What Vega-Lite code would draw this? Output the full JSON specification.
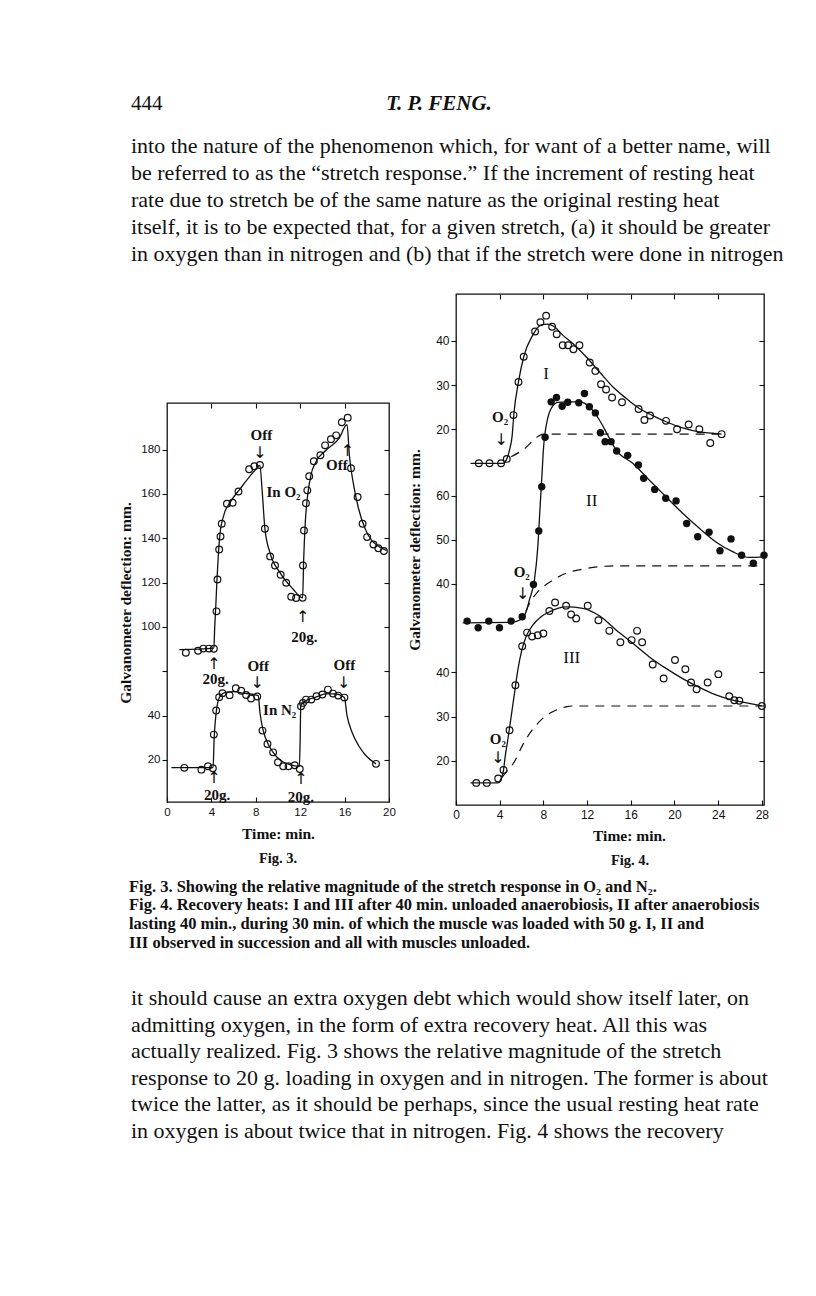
{
  "$schema": "https://vega.github.io/schema/vega-lite/v6.json",
  "background": "white",
  "padding": {"left": 118, "top": 89, "right": 0, "bottom": 0},
  "spacing": 0,
  "config": {
    "view": {"stroke": null},
    "font": "Liberation Serif",
    "axis": {"domain": false, "grid": false, "labelFlush": false, "tickColor": "#111", "tickWidth": 1.1, "labelColor": "#111", "labelFont": "Liberation Sans", "labelFontSize": 12, "titleFont": "Liberation Serif", "titleFontSize": 15.5, "titleFontWeight": "bold", "titleColor": "#111"},
    "title": {"font": "Liberation Serif", "fontSize": 14.5, "fontWeight": "bold", "color": "#111"},
    "text": {"color": "#111", "font": "Liberation Serif"}
  },
  "datasets": {
    "para1": [
      {"line": 1, "text": "into the nature of the phenomenon which, for want of a better name, will"},
      {"line": 2, "text": "be referred to as the “stretch response.”  If the increment of resting heat"},
      {"line": 3, "text": "rate due to stretch be of the same nature as the original resting heat"},
      {"line": 4, "text": "itself, it is to be expected that, for a given stretch, (a) it should be greater"},
      {"line": 5, "text": "in oxygen than in nitrogen and (b) that if the stretch were done in nitrogen"}
    ],
    "captions": [
      {"line": 1, "text": "Fig. 3.  Showing the relative magnitude of the stretch response in O₂ and N₂."},
      {"line": 2, "text": "Fig. 4.  Recovery heats: I and III after 40 min. unloaded anaerobiosis, II after anaerobiosis"},
      {"line": 3, "text": "\u2003\u2005lasting 40 min., during 30 min. of which the muscle was loaded with 50 g.  I, II and"},
      {"line": 4, "text": "\u2003\u2005III observed in succession and all with muscles unloaded."}
    ],
    "para2": [
      {"line": 1, "text": "it should cause an extra oxygen debt which would show itself later, on"},
      {"line": 2, "text": "admitting oxygen, in the form of extra recovery heat.  All this was"},
      {"line": 3, "text": "actually realized.  Fig. 3 shows the relative magnitude of the stretch"},
      {"line": 4, "text": "response to 20 g. loading in oxygen and in nitrogen. The former is about"},
      {"line": 5, "text": "twice the latter, as it should be perhaps, since the usual resting heat rate"},
      {"line": 6, "text": "in oxygen is about twice that in nitrogen.  Fig. 4 shows the recovery"}
    ],
    "f3_o2_obs": [
      {"t":1.7,"v":88.3},{"t":2.8,"v":89.2},{"t":3.27,"v":90.2},{"t":3.78,"v":90.2},{"t":4.22,"v":90.1},
      {"t":4.46,"v":107},{"t":4.55,"v":121.4},{"t":4.7,"v":134.9},{"t":4.82,"v":140.8},{"t":4.93,"v":146.5},{"t":5.4,"v":155.6},{"t":5.91,"v":156},{"t":6.44,"v":161.1},{"t":7.4,"v":171.1},{"t":7.87,"v":172.5},{"t":8.37,"v":173},
      {"t":8.82,"v":144.3},{"t":9.29,"v":131.8},{"t":9.73,"v":127.7},{"t":10.24,"v":123.5},{"t":10.74,"v":119.9},{"t":11.19,"v":113.6},{"t":11.63,"v":113},{"t":12.22,"v":113.1},
      {"t":12.25,"v":127.7},{"t":12.34,"v":143.5},{"t":12.52,"v":155.8},{"t":12.64,"v":161.6},{"t":12.81,"v":168},{"t":13.23,"v":174.7},{"t":13.82,"v":177.4},{"t":14.24,"v":181.9},{"t":14.77,"v":184.7},{"t":15.24,"v":186.4},{"t":15.75,"v":192.3},{"t":16.28,"v":194.4},
      {"t":16.58,"v":171.6},{"t":17.17,"v":158.6},{"t":17.62,"v":146.5},{"t":18.03,"v":140.5},{"t":18.6,"v":137.2},{"t":19.04,"v":135.5},{"t":19.54,"v":134.2}
    ],
    "f3_o2_fit": [
      {"t":1.11,"v":89.7},{"t":4.22,"v":90.4},{"t":4.3,"v":100},{"t":4.4,"v":110},{"t":4.5,"v":121},{"t":4.62,"v":132},{"t":4.76,"v":141.3},{"t":5.11,"v":150.3},{"t":5.7,"v":156.3},{"t":6.59,"v":162.3},{"t":7.78,"v":169.8},{"t":8.37,"v":172.9},{"t":8.58,"v":160.8},{"t":8.82,"v":144.3},{"t":9.26,"v":133.7},{"t":10.15,"v":124.7},{"t":11.33,"v":117.2},{"t":12.22,"v":113.1},{"t":12.31,"v":129.8},{"t":12.46,"v":147.3},{"t":12.67,"v":159.3},{"t":12.96,"v":168.4},{"t":13.41,"v":174.4},{"t":14.3,"v":179.6},{"t":15.48,"v":184.9},{"t":16.22,"v":191.2},{"t":16.43,"v":177.4},{"t":16.82,"v":163.8},{"t":17.26,"v":153.3},{"t":17.85,"v":144.3},{"t":18.44,"v":139},{"t":19.04,"v":136.4},{"t":19.78,"v":134.5}
    ],
    "f3_o2_notes": [
      {"t":8.5,"v":186.5,"label":"Off","kind":"label"},{"t":8.37,"v":178.3,"label":"↓","kind":"arrow"},
      {"t":15.3,"v":172.9,"label":"Off","kind":"label"},{"t":16.25,"v":179.5,"label":"↑","kind":"arrow"},
      {"t":10.5,"v":160.8,"label":"In O₂","kind":"label"},
      {"t":12.22,"v":104.5,"label":"↑","kind":"arrow"},{"t":12.37,"v":95.6,"label":"20g.","kind":"label"},
      {"t":4.22,"v":83.4,"label":"↑","kind":"arrow"},{"t":4.37,"v":76.6,"label":"20g.","kind":"label"}
    ],
    "f3_n2_obs": [
      {"t":1.56,"v":16.4},{"t":3.1,"v":15.6},{"t":3.69,"v":17.1},{"t":4.13,"v":16.2},
      {"t":4.22,"v":31.4},{"t":4.43,"v":42.3},{"t":4.7,"v":48.3},{"t":5.0,"v":50.1},{"t":5.64,"v":49.2},{"t":6.2,"v":52.3},{"t":6.68,"v":51.2},{"t":7.13,"v":49.3},{"t":7.57,"v":47.7},{"t":8.13,"v":48.6},
      {"t":8.6,"v":33.2},{"t":9.05,"v":27.2},{"t":9.56,"v":23.4},{"t":10.0,"v":18.9},{"t":10.47,"v":17.1},{"t":10.95,"v":17.1},{"t":11.51,"v":17.6},{"t":11.96,"v":15.9},
      {"t":12.07,"v":44.2},{"t":12.25,"v":45.7},{"t":12.52,"v":47.2},{"t":13.0,"v":47.2},{"t":13.47,"v":48.7},{"t":14.0,"v":49.5},{"t":14.5,"v":51.7},{"t":14.95,"v":49.9},{"t":15.42,"v":49},{"t":15.98,"v":48.1},
      {"t":18.83,"v":18.2}
    ],
    "f3_n2_fit": [
      {"t":0.4,"v":16.5},{"t":4.15,"v":16.5},{"t":4.25,"v":30},{"t":4.4,"v":40},{"t":4.52,"v":44.5},{"t":4.82,"v":49},{"t":5.26,"v":50.5},{"t":6,"v":50.8},{"t":6.89,"v":50.1},{"t":8.22,"v":49},{"t":8.37,"v":41.5},{"t":8.67,"v":33.2},{"t":9.11,"v":27.2},{"t":9.56,"v":23.4},{"t":10.15,"v":20.1},{"t":11.04,"v":17.9},{"t":11.93,"v":17.1},{"t":12.0,"v":30},{"t":12.05,"v":44.5},{"t":12.52,"v":46.8},{"t":13.41,"v":48.3},{"t":14.3,"v":49.8},{"t":15.19,"v":49.8},{"t":15.98,"v":48.1},{"t":16.22,"v":40},{"t":16.67,"v":32.5},{"t":17.26,"v":26.5},{"t":17.85,"v":22.3},{"t":18.83,"v":18.2}
    ],
    "f3_n2_notes": [
      {"t":8.22,"v":62.5,"label":"Off","kind":"label"},{"t":8.13,"v":54.5,"label":"↓","kind":"arrow"},
      {"t":15.98,"v":62.8,"label":"Off","kind":"label"},{"t":15.92,"v":54.5,"label":"↓","kind":"arrow"},
      {"t":10.15,"v":42.3,"label":"In N₂","kind":"label"},
      {"t":4.22,"v":11.8,"label":"↑","kind":"arrow"},{"t":4.52,"v":4.0,"label":"20g.","kind":"label"},
      {"t":12.07,"v":11.3,"label":"↑","kind":"arrow"},{"t":12.07,"v":3.4,"label":"20g.","kind":"label"}
    ],
    "f4_1_obs": [
      {"t":2.09,"v":12.3},{"t":3.07,"v":12.3},{"t":4.13,"v":12.3},{"t":4.65,"v":13.3},{"t":5.26,"v":23.2},{"t":5.72,"v":30.7},{"t":6.2,"v":36.4},{"t":7.24,"v":42.1},{"t":7.73,"v":44.2},{"t":8.25,"v":45.7},{"t":8.8,"v":43.2},{"t":9.22,"v":41.5},{"t":9.77,"v":39},{"t":10.27,"v":39},{"t":10.75,"v":38.1},{"t":11.3,"v":39},{"t":12.24,"v":35.1},{"t":12.76,"v":33.2},{"t":13.28,"v":30.2},{"t":13.74,"v":29},{"t":14.29,"v":27.2},{"t":15.2,"v":26.1},{"t":16.72,"v":24.6},{"t":17.25,"v":22.1},{"t":17.77,"v":23.1},{"t":19.23,"v":21.9},{"t":20.24,"v":20},{"t":21.3,"v":21.1},{"t":22.28,"v":20},{"t":23.28,"v":16.9},{"t":24.32,"v":18.9}
    ],
    "f4_1_fit": [
      {"t":1.33,"v":12.3},{"t":4.3,"v":12.3},{"t":4.65,"v":13.3},{"t":4.9,"v":15.3},{"t":5.14,"v":18.5},{"t":5.3,"v":23.5},{"t":5.72,"v":30.7},{"t":6.2,"v":36.4},{"t":7.03,"v":41.3},{"t":7.79,"v":43.6},{"t":8.4,"v":43.8},{"t":9.01,"v":43.2},{"t":9.77,"v":41.3},{"t":10.69,"v":39.4},{"t":11.91,"v":36.4},{"t":13.13,"v":33},{"t":14.35,"v":29.6},{"t":15.57,"v":27},{"t":16.79,"v":24.7},{"t":18.01,"v":23.1},{"t":19.23,"v":21.7},{"t":20.75,"v":20.3},{"t":22.28,"v":19.4},{"t":23.5,"v":19.1},{"t":24.32,"v":18.9}
    ],
    "f4_1_base": [
      {"t":5.05,"v":13.8},{"t":6.42,"v":15.9},{"t":7.34,"v":18.1},{"t":8.0,"v":18.9},{"t":24.1,"v":18.9}
    ],
    "f4_1_notes": [
      {"t":4.04,"v":22.8,"label":"O₂","kind":"label"},{"t":4.14,"v":17.6,"label":"↓","kind":"arrow"},{"t":8.25,"v":32.6,"label":"I","kind":"roman"}
    ],
    "f4_2_obs": [
      {"t":1.02,"v":31.6},{"t":2.03,"v":30.1},{"t":3.0,"v":31.6},{"t":3.98,"v":30.1},{"t":5.05,"v":31.6},{"t":6.06,"v":32.6},{"t":7.09,"v":39.9},{"t":7.58,"v":52},{"t":7.85,"v":62},{"t":8.16,"v":73.2},{"t":8.71,"v":81.2},{"t":9.2,"v":82.2},{"t":9.72,"v":80.2},{"t":10.23,"v":81.1},{"t":11.24,"v":81},{"t":11.76,"v":83.1},{"t":12.21,"v":80.1},{"t":12.76,"v":78.7},{"t":13.22,"v":74.2},{"t":13.65,"v":72.2},{"t":14.2,"v":72.2},{"t":14.71,"v":70.1},{"t":15.72,"v":69.1},{"t":16.7,"v":66.9},{"t":17.18,"v":63.9},{"t":18.19,"v":61.4},{"t":19.2,"v":59.4},{"t":20.15,"v":58.8},{"t":21.12,"v":53.7},{"t":22.13,"v":50.7},{"t":23.17,"v":51.7},{"t":24.17,"v":47.5},{"t":25.18,"v":50.2},{"t":26.15,"v":46.5},{"t":27.22,"v":44.7},{"t":28.2,"v":46.5}
    ],
    "f4_2_fit": [
      {"t":0.62,"v":31.2},{"t":5.0,"v":31.3},{"t":6.06,"v":32.2},{"t":6.42,"v":33.7},{"t":6.72,"v":36.4},{"t":7.18,"v":40.9},{"t":7.49,"v":48.4},{"t":7.7,"v":57.5},{"t":7.88,"v":65},{"t":8.0,"v":70.3},{"t":8.4,"v":77.5},{"t":8.71,"v":79.7},{"t":9.31,"v":81.1},{"t":10.08,"v":81.2},{"t":11.3,"v":81.2},{"t":12.21,"v":80.1},{"t":13.13,"v":77.1},{"t":13.89,"v":73.7},{"t":14.66,"v":70.3},{"t":16.18,"v":67.3},{"t":17.7,"v":63.5},{"t":19.23,"v":59.7},{"t":20.75,"v":56},{"t":22.28,"v":52.6},{"t":23.8,"v":49.5},{"t":25.33,"v":47.3},{"t":26.85,"v":46},{"t":28.2,"v":46.2}
    ],
    "f4_2_base": [
      {"t":6.4,"v":33.8},{"t":6.57,"v":34.8},{"t":9.17,"v":41.3},{"t":11.91,"v":43.5},{"t":14.66,"v":44.1},{"t":28.2,"v":44.1}
    ],
    "f4_2_notes": [
      {"t":6.02,"v":42.6,"label":"O₂","kind":"label"},{"t":6.11,"v":37.8,"label":"↓","kind":"arrow"},{"t":12.43,"v":58.8,"label":"II","kind":"roman"}
    ],
    "f4_3_obs": [
      {"t":1.85,"v":15.0},{"t":2.82,"v":15.0},{"t":3.86,"v":16.0},{"t":4.35,"v":17.9},{"t":4.9,"v":26.9},{"t":5.44,"v":37.1},{"t":6.06,"v":45.9},{"t":6.51,"v":49},{"t":6.97,"v":48.1},{"t":7.49,"v":48.4},{"t":8.0,"v":48.8},{"t":8.55,"v":53.9},{"t":9.07,"v":55.8},{"t":10.08,"v":55.1},{"t":10.54,"v":53.1},{"t":11.0,"v":52.2},{"t":12.06,"v":55.1},{"t":13.04,"v":51.8},{"t":14.04,"v":49.4},{"t":15.05,"v":46.8},{"t":16.08,"v":47.3},{"t":16.58,"v":49.4},{"t":17.04,"v":46.8},{"t":18.01,"v":41.8},{"t":19.01,"v":38.6},{"t":20.05,"v":42.8},{"t":21.0,"v":40.7},{"t":21.52,"v":37.7},{"t":22.03,"v":36.2},{"t":23.04,"v":37.7},{"t":24.02,"v":39.6},{"t":25.02,"v":34.6},{"t":25.48,"v":33.7},{"t":25.94,"v":33.6},{"t":28.01,"v":32.4}
    ],
    "f4_3_fit": [
      {"t":1.33,"v":15},{"t":3.83,"v":15},{"t":4.13,"v":16},{"t":4.35,"v":17.9},{"t":4.5,"v":20.9},{"t":4.74,"v":24.7},{"t":5.05,"v":30},{"t":5.35,"v":35.2},{"t":5.66,"v":40.5},{"t":6.02,"v":45},{"t":6.42,"v":48.1},{"t":7.03,"v":50.7},{"t":7.79,"v":52.6},{"t":8.55,"v":53.7},{"t":10.08,"v":54.8},{"t":11.6,"v":54.5},{"t":13.13,"v":52.8},{"t":14.66,"v":49.6},{"t":16.18,"v":46.6},{"t":17.7,"v":43.5},{"t":19.23,"v":40.9},{"t":20.75,"v":38.6},{"t":22.28,"v":36.6},{"t":23.8,"v":34.9},{"t":25.33,"v":33.7},{"t":26.85,"v":33},{"t":28.01,"v":32.4}
    ],
    "f4_3_base": [
      {"t":4.2,"v":16.2},{"t":4.44,"v":17},{"t":5.35,"v":19.8},{"t":6.11,"v":23.6},{"t":7.94,"v":29.6},{"t":9.17,"v":31.5},{"t":10.08,"v":32.2},{"t":10.6,"v":32.4},{"t":28.2,"v":32.4}
    ],
    "f4_3_notes": [
      {"t":3.83,"v":25.0,"label":"O₂","kind":"label"},{"t":3.83,"v":20.6,"label":"↓","kind":"arrow"},{"t":10.6,"v":43.3,"label":"III","kind":"roman"}
    ]
  },
  "vconcat": [
    {
      "width": 544, "height": 30,
      "layer": [
        {"data": {"values": [{"text": "444"}]}, "mark": {"type": "text", "align": "left", "baseline": "middle", "fontSize": 21, "dx": -36},
         "encoding": {"x": {"datum": 0, "type": "quantitative", "scale": {"domain": [0, 1]}, "axis": null}, "text": {"field": "text"}}},
        {"data": {"values": [{"text": "T. P. FENG."}]}, "mark": {"type": "text", "align": "center", "baseline": "middle", "fontSize": 21, "fontStyle": "italic", "fontWeight": "bold"},
         "encoding": {"x": {"datum": 0.5, "type": "quantitative", "scale": {"domain": [0, 1]}, "axis": null}, "text": {"field": "text"}}}
      ]
    },
    {
      "width": 600, "height": 173,
      "data": {"name": "para1"},
      "mark": {"type": "text", "align": "left", "baseline": "middle", "fontSize": 22, "dx": -36},
      "encoding": {
        "x": {"datum": 0, "type": "quantitative", "scale": {"domain": [0, 1]}, "axis": null},
        "y": {"field": "line", "type": "quantitative", "scale": {"domain": [0, 6.407], "reverse": true, "nice": false, "zero": false}, "axis": null},
        "text": {"field": "text"}
      }
    },
    {
      "hconcat": [
        {
          "spacing": 0,
          "vconcat": [
            {"width": 1, "height": 107, "data": {"values": []}, "mark": {"type": "point", "opacity": 0}},
            {
              "width": 222, "height": 399,
              "view": {"stroke": "#111", "strokeWidth": 1.3},
              "title": {"text": "Fig. 3.", "orient": "bottom", "offset": 10},
              "resolve": {"scale": {"y": "independent"}, "axis": {"x": "independent", "y": "independent"}},
              "layer": [
                {
                  "encoding": {
                    "x": {"field": "t", "type": "quantitative", "scale": {"domain": [0, 20], "nice": false, "zero": false},
                          "axis": {"orient": "bottom", "values": [0, 4, 8, 12, 16, 20], "tickSize": -5, "labelPadding": 9, "labelFontSize": 11.5, "title": "Time: min.", "titlePadding": 9}},
                    "y": {"field": "v", "type": "quantitative", "scale": {"domain": [1, 181], "nice": false, "zero": false},
                          "axis": {"orient": "left", "values": [20, 40, 60, 80, 100, 120, 140, 160], "labelExpr": "datum.value == 60 ? '' : '' + (datum.value >= 80 ? datum.value + 20 : datum.value)", "tickSize": 5, "labelPadding": 2, "labelFontSize": 11.5, "title": "Galvanometer deflection: mm.", "titlePadding": 7}}
                  },
                  "layer": [
                    {"data": {"name": "f3_n2_fit"}, "mark": {"type": "line", "interpolate": "monotone", "color": "#111", "strokeWidth": 1.3}},
                    {"data": {"name": "f3_n2_obs"}, "mark": {"type": "point", "shape": "circle", "filled": false, "color": "#111", "size": 45, "strokeWidth": 1.2, "opacity": 1}},
                    {"data": {"name": "f3_n2_notes"}, "transform": [{"filter": "datum.kind == 'label'"}], "mark": {"type": "text", "fontWeight": "bold", "fontSize": 15, "baseline": "middle"}, "encoding": {"text": {"field": "label"}}},
                    {"data": {"name": "f3_n2_notes"}, "transform": [{"filter": "datum.kind == 'arrow'"}], "mark": {"type": "text", "font": "DejaVu Sans", "fontSize": 16, "baseline": "middle"}, "encoding": {"text": {"field": "label"}}}
                  ]
                },
                {
                  "encoding": {
                    "x": {"field": "t", "type": "quantitative", "scale": {"domain": [0, 20], "nice": false, "zero": false},
                          "axis": {"orient": "top", "values": [4, 8, 12, 16], "tickSize": -5, "labels": false, "title": null}},
                    "y": {"field": "v", "type": "quantitative", "scale": {"domain": [21, 201], "nice": false, "zero": false},
                          "axis": {"orient": "right", "values": [40, 60, 80, 100, 120, 140, 160, 180], "tickSize": -5, "labels": false, "title": null}}
                  },
                  "layer": [
                    {"data": {"name": "f3_o2_fit"}, "mark": {"type": "line", "interpolate": "monotone", "color": "#111", "strokeWidth": 1.3}},
                    {"data": {"name": "f3_o2_obs"}, "mark": {"type": "point", "shape": "circle", "filled": false, "color": "#111", "size": 45, "strokeWidth": 1.2, "opacity": 1}},
                    {"data": {"name": "f3_o2_notes"}, "transform": [{"filter": "datum.kind == 'label'"}], "mark": {"type": "text", "fontWeight": "bold", "fontSize": 15, "baseline": "middle"}, "encoding": {"text": {"field": "label"}}},
                    {"data": {"name": "f3_o2_notes"}, "transform": [{"filter": "datum.kind == 'arrow'"}], "mark": {"type": "text", "font": "DejaVu Sans", "fontSize": 16, "baseline": "middle"}, "encoding": {"text": {"field": "label"}}}
                  ]
                }
              ]
            }
          ]
        },
        {
          "width": 308, "height": 511,
          "view": {"stroke": "#111", "strokeWidth": 1.3},
          "title": {"text": "Fig. 4.", "orient": "bottom", "offset": 10, "dx": 20},
          "resolve": {"scale": {"y": "independent"}, "axis": {"x": "independent", "y": "independent"}},
          "layer": [
            {
              "encoding": {
                "x": {"field": "t", "type": "quantitative", "scale": {"domain": [0, 28.2], "nice": false, "zero": false},
                      "axis": {"orient": "bottom", "values": [0, 4, 8, 12, 16, 20, 24, 28], "tickSize": -5, "labelPadding": 9, "title": "Time: min.", "titlePadding": 8, "titleX": 173}},
                "y": {"field": "v", "type": "quantitative", "scale": {"domain": [10, 125.6], "nice": false, "zero": false},
                      "axis": {"orient": "left", "values": [20, 30, 40, 60, 70, 80, 95, 105, 115], "labelExpr": "'' + (datum.value >= 90 ? datum.value - 75 : (datum.value >= 55 ? datum.value - 20 : datum.value))", "tickSize": 5, "labelPadding": 2, "title": "Galvanometer deflection: mm.", "titlePadding": 13}}
              },
              "layer": [
                {"data": {"name": "f4_3_base"}, "mark": {"type": "line", "interpolate": "monotone", "color": "#111", "strokeWidth": 1.2, "strokeDash": [9, 7]}},
                {"data": {"name": "f4_3_fit"}, "mark": {"type": "line", "interpolate": "monotone", "color": "#111", "strokeWidth": 1.3}},
                {"data": {"name": "f4_3_obs"}, "mark": {"type": "point", "shape": "circle", "filled": false, "color": "#111", "size": 45, "strokeWidth": 1.2, "opacity": 1}},
                {"data": {"name": "f4_3_notes"}, "transform": [{"filter": "datum.kind == 'label'"}], "mark": {"type": "text", "fontWeight": "bold", "fontSize": 15, "baseline": "middle"}, "encoding": {"text": {"field": "label"}}},
                {"data": {"name": "f4_3_notes"}, "transform": [{"filter": "datum.kind == 'roman'"}], "mark": {"type": "text", "fontSize": 17, "baseline": "middle"}, "encoding": {"text": {"field": "label"}}},
                {"data": {"name": "f4_3_notes"}, "transform": [{"filter": "datum.kind == 'arrow'"}], "mark": {"type": "text", "font": "DejaVu Sans", "fontSize": 16, "baseline": "middle"}, "encoding": {"text": {"field": "label"}}}
              ]
            },
            {
              "encoding": {
                "x": {"field": "t", "type": "quantitative", "scale": {"domain": [0, 28.2], "nice": false, "zero": false},
                      "axis": {"orient": "top", "values": [4, 8, 12, 16, 20, 24], "tickSize": -5, "labels": false, "title": null}},
                "y": {"field": "v", "type": "quantitative", "scale": {"domain": [-10, 105.6], "nice": false, "zero": false},
                      "axis": {"orient": "right", "values": [0, 10, 20, 40, 50, 60, 75, 85, 95], "tickSize": -5, "labels": false, "title": null}}
              },
              "layer": [
                {"data": {"name": "f4_2_base"}, "mark": {"type": "line", "interpolate": "monotone", "color": "#111", "strokeWidth": 1.2, "strokeDash": [9, 7]}},
                {"data": {"name": "f4_2_fit"}, "mark": {"type": "line", "interpolate": "monotone", "color": "#111", "strokeWidth": 1.3}},
                {"data": {"name": "f4_2_obs"}, "mark": {"type": "point", "shape": "circle", "filled": true, "color": "#111", "size": 55, "opacity": 1}},
                {"data": {"name": "f4_2_notes"}, "transform": [{"filter": "datum.kind == 'label'"}], "mark": {"type": "text", "fontWeight": "bold", "fontSize": 15, "baseline": "middle"}, "encoding": {"text": {"field": "label"}}},
                {"data": {"name": "f4_2_notes"}, "transform": [{"filter": "datum.kind == 'roman'"}], "mark": {"type": "text", "fontSize": 17, "baseline": "middle"}, "encoding": {"text": {"field": "label"}}},
                {"data": {"name": "f4_2_notes"}, "transform": [{"filter": "datum.kind == 'arrow'"}], "mark": {"type": "text", "font": "DejaVu Sans", "fontSize": 16, "baseline": "middle"}, "encoding": {"text": {"field": "label"}}}
              ]
            },
            {
              "encoding": {
                "x": {"field": "t", "type": "quantitative", "scale": {"domain": [0, 28.2], "nice": false, "zero": false}, "axis": null},
                "y": {"field": "v", "type": "quantitative", "scale": {"domain": [-65, 50.6], "nice": false, "zero": false}, "axis": null}
              },
              "layer": [
                {"data": {"name": "f4_1_base"}, "mark": {"type": "line", "interpolate": "monotone", "color": "#111", "strokeWidth": 1.2, "strokeDash": [9, 7]}},
                {"data": {"name": "f4_1_fit"}, "mark": {"type": "line", "interpolate": "monotone", "color": "#111", "strokeWidth": 1.3}},
                {"data": {"name": "f4_1_obs"}, "mark": {"type": "point", "shape": "circle", "filled": false, "color": "#111", "size": 45, "strokeWidth": 1.2, "opacity": 1}},
                {"data": {"name": "f4_1_notes"}, "transform": [{"filter": "datum.kind == 'label'"}], "mark": {"type": "text", "fontWeight": "bold", "fontSize": 15, "baseline": "middle"}, "encoding": {"text": {"field": "label"}}},
                {"data": {"name": "f4_1_notes"}, "transform": [{"filter": "datum.kind == 'roman'"}], "mark": {"type": "text", "fontSize": 17, "baseline": "middle"}, "encoding": {"text": {"field": "label"}}},
                {"data": {"name": "f4_1_notes"}, "transform": [{"filter": "datum.kind == 'arrow'"}], "mark": {"type": "text", "font": "DejaVu Sans", "fontSize": 16, "baseline": "middle"}, "encoding": {"text": {"field": "label"}}}
              ]
            }
          ]
        }
      ],
      "spacing": 10
    },
    {
      "width": 600, "height": 104,
      "data": {"name": "captions"},
      "mark": {"type": "text", "align": "left", "baseline": "middle", "fontSize": 16.5, "fontWeight": "bold", "dx": -38},
      "encoding": {
        "x": {"datum": 0, "type": "quantitative", "scale": {"domain": [0, 1]}, "axis": null},
        "y": {"field": "line", "type": "quantitative", "scale": {"domain": [0, 5.57], "reverse": true, "nice": false, "zero": false}, "axis": null},
        "text": {"field": "text"}
      }
    },
    {
      "width": 600, "height": 185,
      "data": {"name": "para2"},
      "mark": {"type": "text", "align": "left", "baseline": "middle", "fontSize": 22, "dx": -36},
      "encoding": {
        "x": {"datum": 0, "type": "quantitative", "scale": {"domain": [0, 1]}, "axis": null},
        "y": {"field": "line", "type": "quantitative", "scale": {"domain": [0, 7], "reverse": true, "nice": false, "zero": false}, "axis": null},
        "text": {"field": "text"}
      }
    }
  ]
}
